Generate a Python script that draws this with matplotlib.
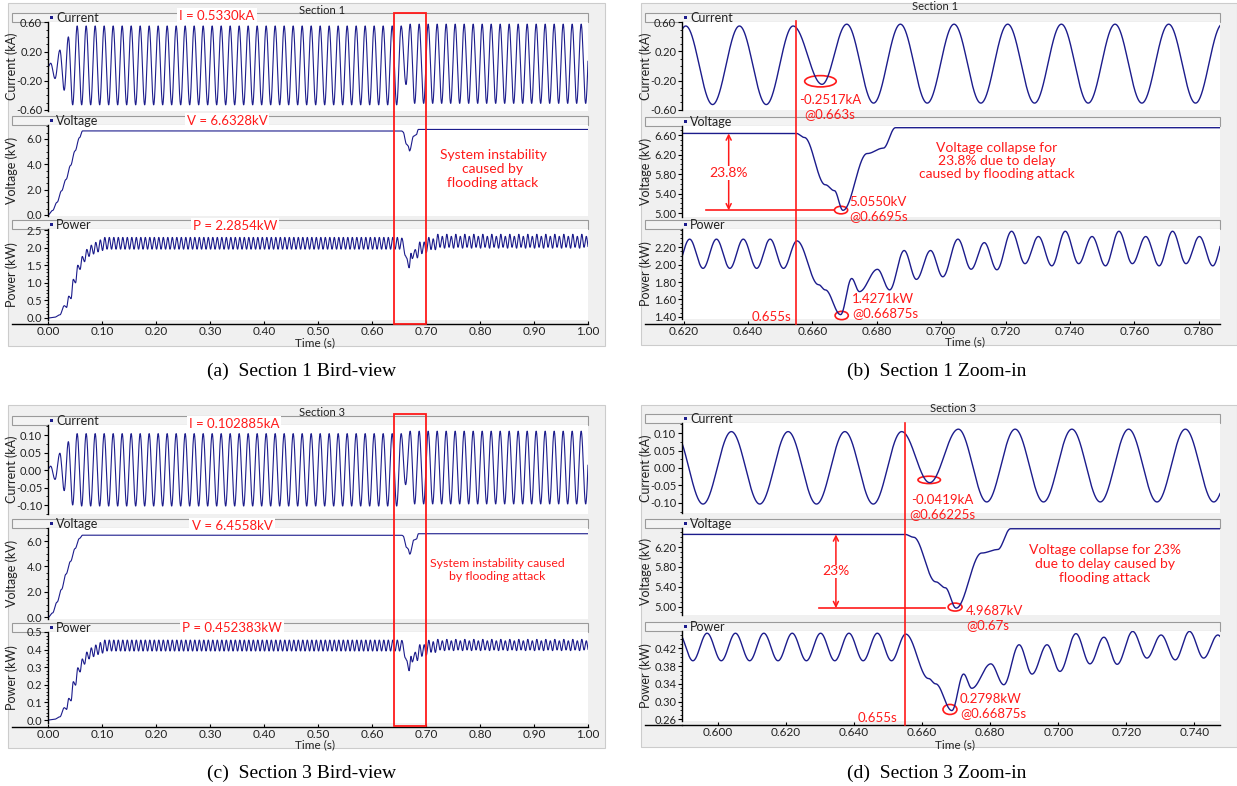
import numpy as np
import matplotlib
matplotlib.use('Agg')
import matplotlib.pyplot as plt
from matplotlib.patches import Rectangle, Ellipse
from matplotlib.lines import Line2D
from matplotlib.ticker import FixedLocator, MultipleLocator, FormatStrFormatter
from matplotlib.transforms import blended_transform_factory

plt.rcParams['font.family'] = ['Lato', 'DejaVu Sans']

# ------------------------------------------------------------------
# values
# ------------------------------------------------------------------
STEP_I = 1 / 120.0      # spacing of current extrema (60 Hz)
STEP_P = 1 / 240.0      # spacing of power extrema (120 Hz ripple)
FIRST_I = 0.054         # first full size current peak (s)
FIRST_P = 0.1052        # first steady power peak (s)
T_ATTACK = 0.655

# Section 1 -- current (t, kA)
s1_cur_head = [(0.0, -0.01), (0.005, 0.04), (0.013, -0.17), (0.022, 0.22),
               (0.030, -0.33), (0.0377, 0.40), (0.0457, -0.53)]
s1_cur_before = [0.55, -0.53]
s1_cur_event = [(0.663, -0.2517)]
s1_cur_after = [0.575, -0.51]

# Section 1 -- voltage knots (t, kV)
s1_volt = [(0.0, 0.0), (0.0083, 0.35), (0.0167, 1.0), (0.025, 1.9), (0.0333, 2.8),
           (0.0417, 3.9), (0.05, 5.05), (0.0583, 6.1), (0.064, 6.6328),
           (0.655, 6.6328), (0.6575, 6.55), (0.664, 5.58), (0.6668, 5.46),
           (0.6695, 5.055), (0.677, 6.22), (0.682, 6.33), (0.6858, 6.75), (1.0, 6.75)]

# Section 1 -- power (t, kW)
s1_pwr_head = [(0.0, 0.0), (0.012, 0.02), (0.022, 0.09), (0.0302, 0.35), (0.0344, 0.30),
               (0.0385, 0.62), (0.0427, 0.55), (0.0469, 1.10), (0.0510, 1.00),
               (0.0552, 1.50), (0.0594, 1.38), (0.0635, 1.75), (0.0677, 1.60),
               (0.0719, 1.95), (0.0760, 1.75), (0.0802, 2.07), (0.0844, 1.82),
               (0.0885, 2.15), (0.0927, 1.88), (0.0969, 2.22), (0.1010, 1.92)]
s1_pwr_before = [2.29, 1.956]
s1_pwr_event = [(0.6552, 2.27), (0.6619, 1.77), (0.6640, 1.71), (0.66875, 1.4271),
                (0.6722, 1.84), (0.6746, 1.69), (0.6802, 1.945), (0.6840, 1.71),
                (0.6885, 2.16), (0.6923, 1.83), (0.6967, 2.16), (0.7005, 1.86),
                (0.7052, 2.29), (0.7093, 1.946), (0.7134, 2.25), (0.7173, 1.94)]
s1_pwr_after = [2.38, 2.01, 2.32, 1.985]

# Section 3 -- current
s3_cur_head = [(0.0, 0.003), (0.005, 0.011), (0.013, -0.027), (0.022, 0.048),
               (0.030, -0.059), (0.0377, 0.081), (0.0457, -0.100)]
s3_cur_before = [0.104, -0.103]
s3_cur_event = [(0.66225, -0.0419)]
s3_cur_after = [0.111, -0.097]

# Section 3 -- voltage
s3_volt = [(0.0, 0.0), (0.0083, 0.35), (0.0167, 1.2), (0.025, 2.2), (0.0333, 3.4),
           (0.0417, 4.4), (0.05, 5.4), (0.0583, 6.2), (0.064, 6.4558),
           (0.655, 6.4558), (0.6575, 6.40), (0.664, 5.50), (0.6668, 5.38),
           (0.670, 4.9687), (0.6775, 6.08), (0.6822, 6.15), (0.686, 6.57), (1.0, 6.57)]

# Section 3 -- power
s3_pwr_head = [(0.0, 0.0), (0.012, 0.004), (0.022, 0.018), (0.0302, 0.07), (0.0344, 0.06),
               (0.0385, 0.123), (0.0427, 0.109), (0.0469, 0.218), (0.0510, 0.198),
               (0.0552, 0.297), (0.0594, 0.273), (0.0635, 0.347), (0.0677, 0.317),
               (0.0719, 0.386), (0.0760, 0.347), (0.0802, 0.41), (0.0844, 0.36),
               (0.0885, 0.426), (0.0927, 0.372), (0.0969, 0.44), (0.1010, 0.38)]
s3_pwr_before = [0.454, 0.392]
s3_pwr_event = [(0.6552, 0.452), (0.6619, 0.352), (0.6640, 0.340), (0.66875, 0.2798),
                (0.6722, 0.362), (0.6746, 0.330), (0.6802, 0.385), (0.6840, 0.338),
                (0.6885, 0.428), (0.6923, 0.362), (0.6967, 0.428), (0.7005, 0.368),
                (0.7052, 0.453), (0.7093, 0.385), (0.7134, 0.445), (0.7173, 0.384)]
s3_pwr_after = [0.458, 0.398, 0.450, 0.394]

# header read-outs
s1_readout = ['I = 0.5330kA', 'V = 6.6328kV', 'P = 2.2854kW']
s3_readout = ['I = 0.102885kA', 'V = 6.4558kV', 'P = 0.452383kW']

# tick values
bird_xticks = [0.0, 0.1, 0.2, 0.3, 0.4, 0.5, 0.6, 0.7, 0.8, 0.9, 1.0]
b_xticks = [0.62, 0.64, 0.66, 0.68, 0.70, 0.72, 0.74, 0.76, 0.78]
d_xticks = [0.60, 0.62, 0.64, 0.66, 0.68, 0.70, 0.72, 0.74]
a_yticks = [[-0.6, -0.2, 0.2, 0.6], [0, 2, 4, 6], [0, 0.5, 1.0, 1.5, 2.0, 2.5]]
b_yticks = [[-0.6, -0.2, 0.2, 0.6], [5.0, 5.4, 5.8, 6.2, 6.6], [1.4, 1.6, 1.8, 2.0, 2.2]]
c_yticks = [[-0.10, -0.05, 0.0, 0.05, 0.10], [0, 2, 4, 6], [0, 0.1, 0.2, 0.3, 0.4, 0.5]]
d_yticks = [[-0.10, -0.05, 0.0, 0.05, 0.10], [5.0, 5.4, 5.8, 6.2], [0.26, 0.30, 0.34, 0.38, 0.42]]


# ------------------------------------------------------------------
def extrema(head, first, step, before, event, after, t_end=1.0):
    pts = list(head)
    lo = event[0][0] - 0.25 * step
    hi = event[-1][0] + 0.25 * step
    k = 0
    while first + k * step <= t_end + step:
        t = first + k * step
        if t < lo:
            pts.append((t, before[k % len(before)]))
        elif t > hi:
            pts.append((t, after[k % len(after)]))
        k += 1
    return sorted(pts + list(event))


def trace(pts, t):
    # join the read points with half-cosine arcs (sinusoidal between extrema)
    tk = np.array([p[0] for p in pts])
    vk = np.array([p[1] for p in pts])
    i = np.clip(np.searchsorted(tk, t, side='right') - 1, 0, len(tk) - 2)
    s = np.clip((t - tk[i]) / (tk[i + 1] - tk[i]), 0, 1)
    return vk[i] + (vk[i + 1] - vk[i]) * (1 - np.cos(np.pi * s)) / 2


s1_pts = [extrema(s1_cur_head, FIRST_I, STEP_I, s1_cur_before, s1_cur_event, s1_cur_after),
          s1_volt,
          extrema(s1_pwr_head, FIRST_P, STEP_P, s1_pwr_before, s1_pwr_event, s1_pwr_after)]
s3_pts = [extrema(s3_cur_head, FIRST_I, STEP_I, s3_cur_before, s3_cur_event, s3_cur_after),
          s3_volt,
          extrema(s3_pwr_head, FIRST_P, STEP_P, s3_pwr_before, s3_pwr_event, s3_pwr_after)]

# ------------------------------------------------------------------
W, H = 1237, 786
NAVY = '#1c1c8c'
RED = '#ff1a1a'
GREY = '#f0f0f0'
TXT = '#222222'

fig = plt.figure(figsize=(W / 100, H / 100), dpi=100)


def fy(py):
    return 1 - py / H


def box(x0, y0, x1, y1, **kw):
    fig.add_artist(Rectangle((x0 / W, fy(y1)), (x1 - x0) / W, (y1 - y0) / H,
                             transform=fig.transFigure, **kw))


def label(px, py, s, **kw):
    kw.setdefault('va', 'center')
    return fig.text(px / W, fy(py), s, **kw)


def panel(frame, px0, px1, hx0, rows, axis_y, pts, xlim, xticks, xfmt,
          ylims, yticks, yfmt, yminor, ylab_x, time_xy, title_xy, title, caption_xy, caption,
          n_samples, lw):
    box(*frame, facecolor=GREY, edgecolor='#cccccc', lw=0.8, zorder=-5)
    label(title_xy[0], title_xy[1], title, ha='center', fontsize=8, color=TXT)
    label(caption_xy[0], caption_xy[1], caption, ha='center', fontsize=14,
          family=['Liberation Serif', 'DejaVu Serif'], color='black')
    t = np.linspace(xlim[0], xlim[1], n_samples)
    names = ['Current', 'Voltage', 'Power']
    ylabels = ['Current (kA)', 'Voltage (kV)', 'Power (kW)']
    axes = []
    for j, (htop, top, bot) in enumerate(rows):
        box(hx0, htop, px1, top, facecolor='#f3f3f3', edgecolor='#9a9a9a', lw=0.8, zorder=-4)
        box(px0 + 2, (htop + top) / 2 - 1.5, px0 + 5, (htop + top) / 2 + 1.5,
            facecolor=NAVY, edgecolor='none', zorder=-3)
        label(px0 + 8, (htop + top) / 2 + 0.5, names[j], fontsize=9, color=TXT)
        ax = fig.add_axes([px0 / W, fy(bot), (px1 - px0) / W, (bot - top) / H])
        ax.set_facecolor('white')
        ax.plot(t, trace(pts[j], t), color=NAVY, lw=lw)
        ax.set_xlim(*xlim)
        ax.set_ylim(*ylims[j])
        ax.yaxis.set_major_locator(FixedLocator(yticks[j]))
        ax.yaxis.set_minor_locator(MultipleLocator(yminor[j]))
        ax.yaxis.set_major_formatter(FormatStrFormatter(yfmt[j]))
        ax.tick_params(axis='y', which='major', direction='out', length=3, width=0.8,
                       labelsize=8, pad=1.2, labelcolor=TXT)
        ax.tick_params(axis='y', which='minor', direction='out', length=1.8, width=0.6)
        for s in ('top', 'right'):
            ax.spines[s].set_visible(False)
        ax.spines['left'].set_linewidth(1.0)
        ax.set_ylabel(ylabels[j], fontsize=9, color=TXT)
        ax.yaxis.set_label_coords((ylab_x - px0) / (px1 - px0), 0.5)
        if j < 2:
            ax.spines['bottom'].set_visible(False)
            ax.set_xticks([])
        else:
            ax.spines['bottom'].set_position(('outward', (axis_y - bot) * 0.72))
            ax.spines['bottom'].set_linewidth(1.0)
            ax.set_xticks(xticks)
            ax.xaxis.set_major_formatter(FormatStrFormatter(xfmt))
            ax.tick_params(axis='x', direction='in', length=2, labelsize=8.5, pad=1.5,
                           labelcolor=TXT)
        axes.append(ax)
    fig.add_artist(Line2D([hx0 / W, px0 / W], [fy(axis_y), fy(axis_y)],
                          transform=fig.transFigure, color='black', lw=1.0))
    label(time_xy[0], time_xy[1], 'Time (s)', ha='center', fontsize=8.5, color=TXT)
    return axes


def readouts(texts, xy):
    for s, (px, py) in zip(texts, xy):
        label(px, py, s, ha='center', fontsize=9.5, color=RED,
              bbox=dict(facecolor='white', edgecolor='none', pad=1.5))


def vline_fig(ax, t, py0, py1):
    tr = blended_transform_factory(ax.transData, fig.transFigure)
    fig.add_artist(Line2D([t, t], [fy(py0), fy(py1)], transform=tr, color=RED, lw=1.2))


def red_box(ax, t0, t1, py0, py1):
    tr = blended_transform_factory(ax.transData, fig.transFigure)
    fig.add_artist(Rectangle((t0, fy(py1)), t1 - t0, (py1 - py0) / H, transform=tr,
                             fill=False, edgecolor=RED, lw=1.3))


def ring(ax, xy, w, h):
    ax.add_patch(Ellipse(xy, w, h, fill=False, edgecolor=RED, lw=1.2, clip_on=False))


bird_fmt = ['%.2f', '%.1f', '%.1f']
zoom_fmt = ['%.2f', '%.2f', '%.2f']

# (a) Section 1 bird view
axa = panel((8, 3, 605, 346), 48, 588, 12,
            [(13, 22, 111), (116, 125, 216), (220, 229, 320)], 324, s1_pts,
            (0.0, 1.0), bird_xticks, '%.2f',
            [(-0.614, 0.604), (-0.08, 7.1), (-0.057, 2.53)], a_yticks, bird_fmt, [0.1, 0.5, 0.1],
            18, (315, 343), (322, 11), 'Section 1', (302, 371), '(a)  Section 1 Bird-view',
            30001, 0.8)
readouts(s1_readout, [(217, 16), (227, 121), (235, 226)])
red_box(axa[2], 0.641, 0.6995, 13, 324)
label(493, 169, 'System instability\ncaused by\nflooding attack', ha='center', fontsize=10,
      color=RED, linespacing=1.2)

# (c) Section 3 bird view
axc = panel((8, 405, 605, 748), 48, 588, 12,
            [(416, 425, 514), (519, 528, 619), (623, 632, 723)], 727, s3_pts,
            (0.0, 1.0), bird_xticks, '%.2f',
            [(-0.1257, 0.1286), (-0.12, 7.02), (-0.017, 0.5)], c_yticks, bird_fmt,
            [0.025, 0.5, 0.02],
            18, (315, 745), (322, 413), 'Section 3', (302, 773), '(c)  Section 3 Bird-view',
            30001, 0.8)
readouts(s3_readout, [(234, 424), (232, 526), (232, 628)])
red_box(axc[2], 0.641, 0.6995, 414, 726)
label(497, 570, 'System instability caused\nby flooding attack', ha='center', fontsize=8.8,
      color=RED, linespacing=1.25)

# (b) Section 1 zoom-in
axb = panel((641, 3, 1237, 345), 682, 1220, 645,
            [(13, 22, 110), (117, 126, 217), (220, 229, 319)], 324, s1_pts,
            (0.6195, 0.7866), b_xticks, '%.3f',
            [(-0.605, 0.605), (4.918, 6.785), (1.377, 2.406)], b_yticks, zoom_fmt,
            [0.1, 0.1, 0.05],
            652, (965, 342), (935, 7), 'Section 1', (937, 371), '(b)  Section 1 Zoom-in',
            6001, 1.0)
vline_fig(axb[2], T_ATTACK, 21, 324)
ring(axb[0], (0.6625, -0.21), 0.0098, 0.155)
label(830, 107, '-0.2517kA\n@0.663s', ha='center', fontsize=9.5, color=RED, linespacing=1.2)
axb[1].plot([0.6268, 0.6668], [5.055, 5.055], color=RED, lw=1.2)
axb[1].annotate('', xy=(0.634, 5.055), xytext=(0.634, 6.6328),
                arrowprops=dict(arrowstyle='<->', color=RED, lw=1.1, shrinkA=0, shrinkB=0,
                                mutation_scale=9))
axb[1].text(0.634, 5.82, '23.8%', ha='center', va='center', fontsize=10, color=RED,
            bbox=dict(facecolor='white', edgecolor='none', pad=0.5))
ring(axb[1], (0.6689, 5.06), 0.0041, 0.155)
label(849, 209, '5.0550kV\n@0.6695s', ha='left', fontsize=9.5, color=RED, linespacing=1.15)
label(997, 161, 'Voltage collapse for\n23.8% due to delay\ncaused by flooding attack',
      ha='center', fontsize=10, color=RED, linespacing=1.15)
ring(axb[2], (0.6691, 1.417), 0.0041, 0.095)
label(852, 306, '1.4271kW\n@0.66875s', ha='left', fontsize=9.5, color=RED, linespacing=1.15)
label(791, 317, '0.655s', ha='right', fontsize=9.5, color=RED)

# (d) Section 3 zoom-in
axd = panel((641, 405, 1237, 747), 682, 1220, 645,
            [(414, 423, 513), (519, 528, 615), (622, 631, 721)], 725, s3_pts,
            (0.5895, 0.7475), d_xticks, '%.3f',
            [(-0.1286, 0.1286), (4.83, 6.585), (0.2563, 0.459)], d_yticks, zoom_fmt,
            [0.025, 0.1, 0.01],
            652, (955, 745), (953, 408), 'Section 3', (937, 773), '(d)  Section 3 Zoom-in',
            6001, 1.0)
vline_fig(axd[2], T_ATTACK, 423, 725)
ring(axd[0], (0.6621, -0.034), 0.0066, 0.021)
label(942, 507, '-0.0419kA\n@0.66225s', ha='center', fontsize=9.5, color=RED, linespacing=1.2)
axd[1].plot([0.6297, 0.6667], [4.9687, 4.9687], color=RED, lw=1.2)
axd[1].annotate('', xy=(0.6347, 4.9687), xytext=(0.6347, 6.4558),
                arrowprops=dict(arrowstyle='<->', color=RED, lw=1.1, shrinkA=0, shrinkB=0,
                                mutation_scale=9))
axd[1].text(0.6347, 5.71, '23%', ha='center', va='center', fontsize=10, color=RED,
            bbox=dict(facecolor='white', edgecolor='none', pad=0.5))
ring(axd[1], (0.6697, 4.99), 0.0041, 0.16)
label(966, 618, '4.9687kV\n@0.67s', ha='left', fontsize=9.5, color=RED, linespacing=1.25)
label(1105, 564, 'Voltage collapse for 23%\ndue to delay caused by\nflooding attack',
      ha='center', fontsize=10, color=RED, linespacing=1.15)
ring(axd[2], (0.6682, 0.2823), 0.0041, 0.0225)
label(960, 706, '0.2798kW\n@0.66875s', ha='left', fontsize=9.5, color=RED, linespacing=1.15)
label(897, 718, '0.655s', ha='right', fontsize=9.5, color=RED)

fig.savefig('out.png', dpi=100, facecolor='white')
